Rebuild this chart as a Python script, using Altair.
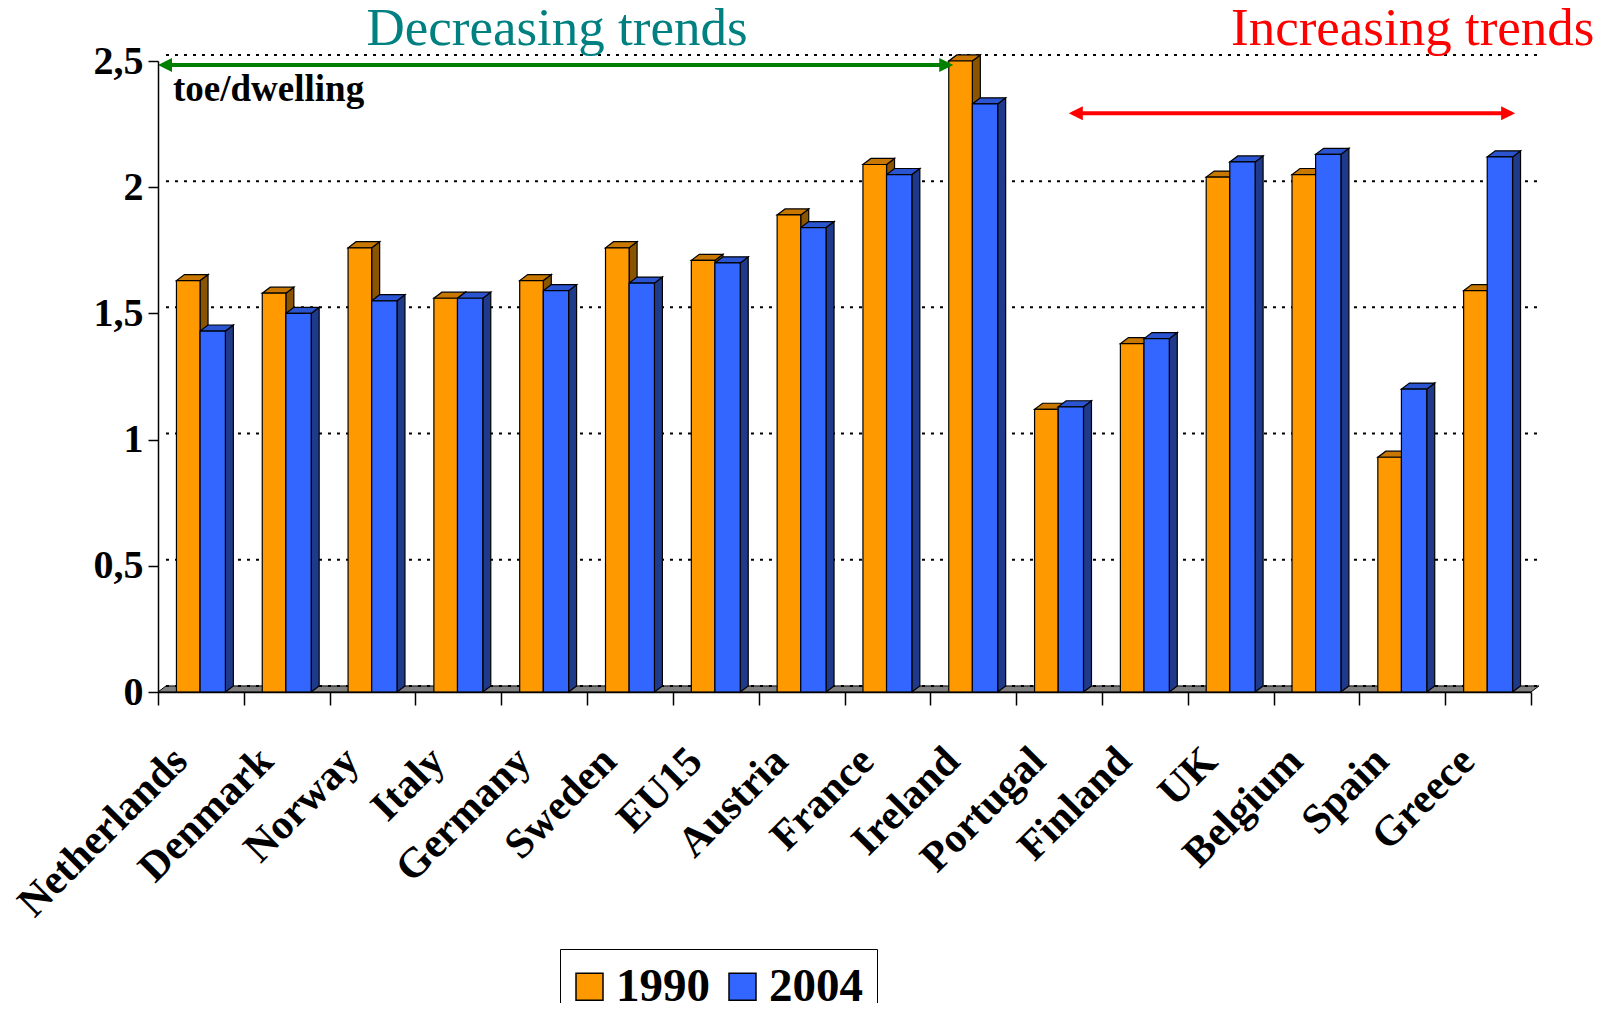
import altair as alt
import pandas as pd

countries = ["Netherlands", "Denmark", "Norway", "Italy", "Germany", "Sweden", "EU15",
             "Austria", "France", "Ireland", "Portugal", "Finland", "UK", "Belgium",
             "Spain", "Greece"]
v1990 = [1.63, 1.58, 1.76, 1.56, 1.63, 1.76, 1.71, 1.89, 2.09, 2.50,
         1.12, 1.38, 2.04, 2.05, 0.93, 1.59]
v2004 = [1.43, 1.50, 1.55, 1.56, 1.59, 1.62, 1.70, 1.84, 2.05, 2.33,
         1.13, 1.40, 2.10, 2.13, 1.20, 2.12]
years = ["1990", "2004"]
y_ticks = [0, 0.5, 1, 1.5, 2, 2.5]

FONT = "Liberation Serif"
front_col = {"1990": "#FF9900", "2004": "#3366FF"}
top_col = {"1990": "#C87800", "2004": "#2B55D0"}
side_col = {"1990": "#8A5500", "2004": "#1F3A8A"}

N = len(countries)
DX = 0.093   # depth of 3D effect in category units
DY = 0.024   # depth of 3D effect in value units
slots = {"1990": (0.215, 0.49), "2004": (0.49, 0.785)}

fronts, sides, tops = [], [], []
for i, c in enumerate(countries):
    for yr, vals in zip(years, [v1990, v2004]):
        v = vals[i]
        x1 = i + slots[yr][0]
        x2 = i + slots[yr][1]
        bid = f"{i:02d}_{yr}"
        fronts.append(dict(country=c, year=yr, x1=x1, x2=x2, v=v))
        sides += [dict(id=bid, x=x2, lo=0.0, hi=v, fill=side_col[yr]),
                  dict(id=bid, x=x2 + DX, lo=DY, hi=v + DY, fill=side_col[yr])]
        tops += [dict(id=bid, x=x1, lo=v, hi=v, fill=top_col[yr]),
                 dict(id=bid, x=x1 + DX, lo=v, hi=v + DY, fill=top_col[yr]),
                 dict(id=bid, x=x2, lo=v, hi=v + DY, fill=top_col[yr]),
                 dict(id=bid, x=x2 + DX, lo=v + DY, hi=v + DY, fill=top_col[yr])]

fronts = pd.DataFrame(fronts)
sides = pd.DataFrame(sides)
tops = pd.DataFrame(tops)
floor = pd.DataFrame([dict(id="f", x=0.0, lo=0.0, hi=0.0),
                      dict(id="f", x=DX, lo=0.0, hi=DY),
                      dict(id="f", x=float(N), lo=0.0, hi=DY),
                      dict(id="f", x=N + DX, lo=DY, hi=DY)])
grid = pd.DataFrame(dict(x=[DX] * len(y_ticks), x2=[N + DX] * len(y_ticks),
                         y=[t + DY for t in y_ticks]))

xs = alt.Scale(domain=[0, N], nice=False, zero=False)
ys = alt.Scale(domain=[0, 2.5], nice=False, zero=True)

x_axis = alt.Axis(values=list(range(N + 1)), labels=False, title=None,
                  grid=False, tickSize=13, tickColor="black", tickWidth=1.5,
                  domainColor="black", domainWidth=1.5, zindex=1)
y_axis = alt.Axis(values=y_ticks, title=None, grid=False,
                  labelExpr="replace('' + datum.value, '.', ',')",
                  labelFont=FONT, labelFontSize=40, labelFontWeight="bold",
                  labelColor="black", tickColor="black", tickSize=10,
                  tickWidth=1.5, domainColor="black", domainWidth=1.5,
                  labelPadding=5, zindex=1)


def X(f, **kw):
    return alt.X(f, scale=xs, axis=x_axis, **kw)


def Y(f, **kw):
    return alt.Y(f, scale=ys, axis=y_axis, **kw)


floor_l = alt.Chart(floor).mark_area(fill="#808080", stroke="black", strokeWidth=1,
                                     interpolate="linear").encode(
    x=X("x:Q"), y=Y("lo:Q", stack=None), y2="hi:Q", detail="id:N")

grid_l = alt.Chart(grid).mark_rule(color="black", strokeWidth=2,
                                   strokeDash=[3, 6]).encode(
    x=X("x:Q"), x2="x2:Q", y=Y("y:Q"))

side_l = alt.Chart(sides).mark_area(stroke="black", strokeWidth=1.2,
                                    interpolate="linear").encode(
    x=X("x:Q"), y=Y("lo:Q", stack=None), y2="hi:Q", detail="id:N",
    fill=alt.Fill("fill:N", scale=None))

top_l = alt.Chart(tops).mark_area(stroke="black", strokeWidth=1.2,
                                  interpolate="linear").encode(
    x=X("x:Q"), y=Y("lo:Q", stack=None), y2="hi:Q", detail="id:N",
    fill=alt.Fill("fill:N", scale=None))

front_l = alt.Chart(fronts).mark_rect(stroke="black", strokeWidth=1.2).encode(
    x=X("x1:Q"), x2="x2:Q",
    y=Y("v:Q"), y2=alt.datum(0),
    color=alt.Color("year:N",
                    scale=alt.Scale(domain=years, range=[front_col[y] for y in years]),
                    legend=alt.Legend(title=None, orient="none", legendX=402, legendY=888,
                                      direction="horizontal", symbolType="square",
                                      symbolSize=729, symbolStrokeColor="black",
                                      symbolStrokeWidth=1.5, symbolOpacity=1,
                                      symbolOffset=-8,
                                      labelFont=FONT, labelFontSize=47,
                                      labelFontWeight="bold", labelColor="black",
                                      labelOffset=3, columnPadding=16, padding=14,
                                      strokeColor="black", fillColor="white",
                                      labelLimit=0)),
)

labels = pd.DataFrame(dict(country=countries, x=[i + 0.26 for i in range(N)],
                           y=[-0.247] * N))
label_l = alt.Chart(labels).mark_text(angle=315, align="right", baseline="middle",
                                      font=FONT, fontSize=42, fontWeight="bold",
                                      color="black").encode(
    x=X("x:Q"), y=Y("y:Q"), text="country:N")

ann = pd.DataFrame(dict(text=["Decreasing trends", "Increasing trends"],
                        x=[4.65, 16.74], y=[2.563, 2.563]))
dec_l = alt.Chart(ann.iloc[[0]]).mark_text(font=FONT, fontSize=53, align="center",
                                           baseline="alphabetic", color="#008080").encode(
    x=X("x:Q"), y=Y("y:Q"), text="text:N")
inc_l = alt.Chart(ann.iloc[[1]]).mark_text(font=FONT, fontSize=53, align="right",
                                           baseline="alphabetic", color="#FF0000").encode(
    x=X("x:Q"), y=Y("y:Q"), text="text:N")

unit = pd.DataFrame(dict(text=["toe/dwelling"], x=[0.175], y=[2.343]))
unit_l = alt.Chart(unit).mark_text(font=FONT, fontSize=37, fontWeight="bold", align="left",
                                   baseline="alphabetic", color="black").encode(
    x=X("x:Q"), y=Y("y:Q"), text="text:N")

arrows = pd.DataFrame(dict(name=["dec", "inc"], x=[0.05, 10.66], x2=[9.22, 15.77],
                           y=[2.484, 2.293], col=["#008000", "#FF0000"]))
arrow_l = alt.Chart(arrows).mark_rule(strokeWidth=4).encode(
    x=X("x:Q"), x2="x2:Q", y=Y("y:Q"), color=alt.Color("col:N", scale=None))

heads = pd.DataFrame(dict(x=[0.0, 9.267, 10.614, 15.815],
                          y=[2.484, 2.484, 2.293, 2.293],
                          col=["#008000", "#008000", "#FF0000", "#FF0000"],
                          side=["L", "R", "L", "R"]))
headL = alt.Chart(heads[heads.side == "L"]).mark_point(
    shape="M0,0L2,-1L2,1Z", filled=True, size=196, opacity=1).encode(
    x=X("x:Q"), y=Y("y:Q"), color=alt.Color("col:N", scale=None))
headR = alt.Chart(heads[heads.side == "R"]).mark_point(
    shape="M0,0L-2,-1L-2,1Z", filled=True, size=196, opacity=1).encode(
    x=X("x:Q"), y=Y("y:Q"), color=alt.Color("col:N", scale=None))

chart = alt.layer(
    floor_l, grid_l, side_l, top_l, front_l, label_l, dec_l, inc_l, unit_l,
    arrow_l, headL, headR
).resolve_scale(color="independent").properties(
    width=1373, height=631,
    autosize=alt.AutoSizeParams(type="none"),
    padding={"left": 150, "top": 53, "right": 62, "bottom": 311},
    background="white",
).configure_view(stroke=None)

chart.save("out.html", embed_options={"renderer": "svg", "actions": False})
